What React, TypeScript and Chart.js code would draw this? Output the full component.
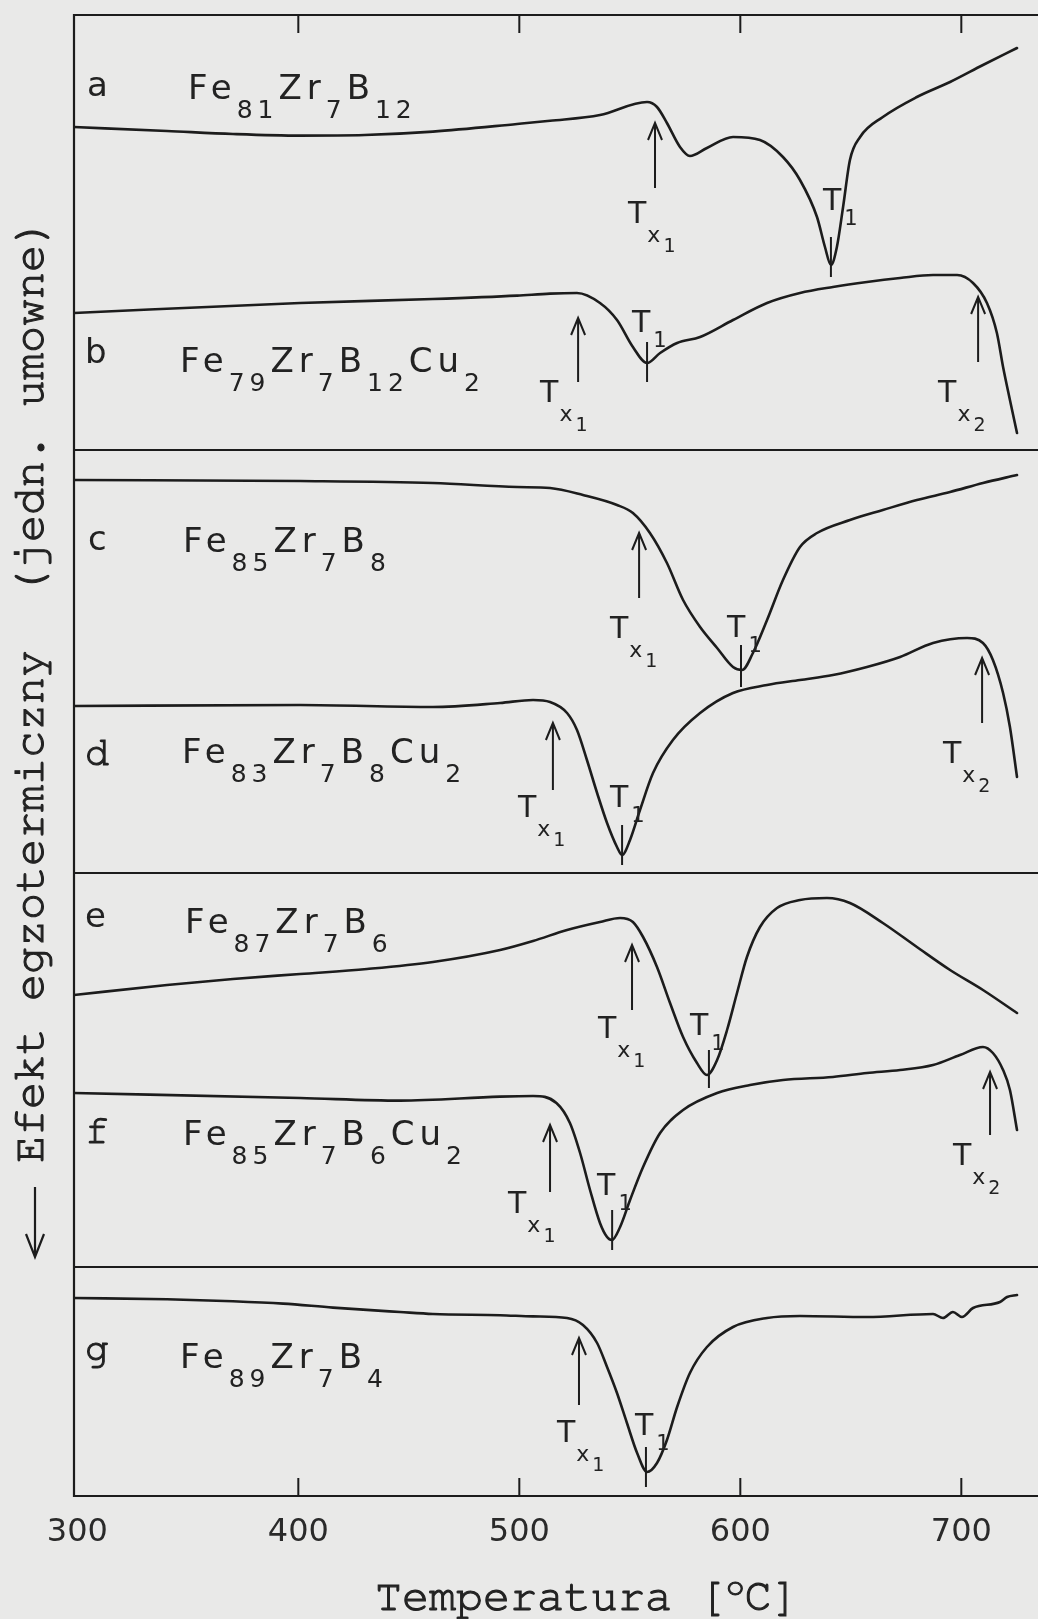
import React, { useEffect, useRef } from 'react';
import { Chart, registerables } from 'chart.js';

Chart.register(...registerables);

const BG = '#e9e9e8';
const INK = '#1c1c1c';
const TEXT = '#222';
const SANS = '"DejaVu Sans", sans-serif';
const MONO = '"Nimbus Mono PS", "Courier 10 Pitch", FreeMono, "Courier New", Courier, "Liberation Mono", monospace';

// x axis (temperature, deg C)
const xTicks = [300, 400, 500, 600, 700];
const xMin = 298.5;
const xMax = 734.7;

// four stacked panels, arbitrary units ("jedn. umowne")
const panelIds = ['p1', 'p2', 'p3', 'p4'];
const panelMax = [108.75, 105.75, 98.5, 57.25];
const panelWeight = [435, 423, 394, 229];

// a: Fe81Zr7B12
const tA = [298.5, 340.6, 370.4, 400.8, 430, 460.9, 499, 513.9, 536.5, 557.8, 562.3, 566.8, 572.7, 577.2, 584.9, 596.7, 608.9, 619.3, 627, 634.7, 638.3, 641, 643.7, 646.5, 649.6, 654.2, 664.5, 679.9, 694.9, 709.8, 725.2];
const vA = [80.75, 79.75, 79, 78.6, 78.75, 79.6, 81.5, 82.3, 83.75, 87, 85.75, 81.75, 75.75, 73.5, 75.5, 78.25, 77.5, 73.25, 67.5, 58.25, 50.75, 46.25, 50.75, 60.75, 72.5, 78.25, 83.25, 88.25, 92, 96.25, 100.5];

// b: Fe79Zr7B12Cu2
const tB = [298.5, 400.8, 460.9, 499, 513.9, 526.1, 536.5, 544.2, 551.4, 557.8, 563.7, 571.4, 581.8, 596.7, 612.1, 627, 641.9, 657.3, 672.3, 687.2, 698.1, 705.3, 711.6, 716.1, 718.9, 722, 725.2];
const vB = [34.25, 36.75, 37.75, 38.6, 39.1, 39.25, 36.75, 32.5, 25.75, 21.75, 24.25, 26.75, 28.25, 32.5, 36.75, 39.25, 40.75, 42, 43, 43.75, 43.75, 41.75, 36.75, 29.25, 20.75, 12.5, 4.25];

// c: Fe85Zr7B8
const tC = [298.5, 400.8, 460.9, 499, 513.9, 528.8, 544.2, 551.4, 559.1, 566.8, 574.1, 581.8, 589.5, 596.7, 600.8, 605.7, 612.1, 619.3, 627, 634.7, 649.6, 664.5, 679.9, 694.9, 709.8, 725.2];
const vC = [98.25, 98, 97.5, 96.5, 96.25, 94.5, 92, 90, 85, 77.5, 68.25, 61.5, 56.25, 51.5, 50.75, 55, 63.25, 73.25, 81.5, 85, 88.25, 90.75, 93.25, 95.25, 97.5, 99.5];

// d: Fe83Zr7B8Cu2
const tD = [298.5, 400.8, 460.9, 491.3, 506.2, 513.9, 521.6, 526.1, 530.6, 535.2, 539.7, 544.2, 546.5, 550.1, 554.6, 560.5, 569.5, 581.8, 596.7, 612.1, 627, 641.9, 657.3, 672.3, 687.2, 702.6, 709.8, 714.3, 718.9, 722, 725.2];
const vD = [41.75, 42, 41.5, 42.5, 43.25, 42.75, 40, 35.75, 28.25, 20, 12.5, 6.5, 4.5, 8.25, 15.75, 25, 33.25, 40, 45, 47, 48.25, 49.5, 51.5, 54, 57.5, 58.75, 57.5, 53.25, 45, 36.5, 24];

// e: Fe87Zr7B6
const tE = [298.5, 340.6, 370.4, 400.8, 431.1, 460.9, 491.3, 506.2, 521.6, 536.5, 545.6, 551.4, 556, 562.3, 568.2, 574.1, 580.4, 584.9, 589.5, 594, 598.5, 603, 608.9, 616.6, 627, 639.2, 649.6, 664.5, 679.9, 694.9, 709.8, 725.2];
const vE = [68, 70.5, 72, 73.25, 74.5, 76.25, 79.25, 81.5, 84.25, 86.25, 87.25, 86.25, 82.5, 75, 66, 57.5, 51, 48, 51.75, 59.25, 68.5, 77.5, 85, 89.75, 91.75, 92.25, 91, 86, 80, 74.25, 69.25, 63.5];

// f: Fe85Zr7B6Cu2
const tF = [298.5, 400.8, 446, 491.3, 506.2, 516.8, 522.9, 527.5, 532, 536.5, 539.7, 541.9, 545.6, 550.1, 556, 563.7, 574.1, 589.5, 604.4, 619.3, 641.9, 657.3, 672.3, 687.2, 699.4, 709.8, 714.3, 718.9, 722, 725.2];
const vF = [43.5, 42.25, 41.6, 42.6, 42.75, 41, 36, 28.5, 19.25, 11, 7.5, 6.75, 10, 16.75, 25, 33.5, 39.25, 43.5, 45.5, 46.75, 47.5, 48.5, 49.25, 50.5, 53, 55, 53.5, 49.25, 44.25, 34.25];

// g: Fe89Zr7B4
const tG = [298.5, 340.6, 370.4, 393.1, 415.7, 446, 460.9, 491.3, 506.2, 521.6, 528.8, 535.2, 539.7, 544.2, 548.7, 553.3, 557.8, 562.3, 566.8, 571.4, 577.2, 584.9, 596.7, 612.1, 627, 657.3, 687.2, 691.7, 696.2, 700.3, 705.3, 717.5, 720.7, 725.2];
const vG = [49.5, 49.2, 48.7, 48.1, 47.1, 46, 45.5, 45.2, 44.9, 44.5, 42.75, 38.25, 32.25, 25.75, 18.25, 10.75, 6, 8.25, 14, 22.25, 30.75, 37.25, 42.25, 44.5, 45, 44.75, 45.5, 44.5, 46, 44.75, 47, 48.5, 49.75, 50.25];

const curveT = [tA, tB, tC, tD, tE, tF, tG];
const curveV = [vA, vB, vC, vD, vE, vF, vG];
const curvePanel = [0, 0, 1, 1, 2, 2, 3];

// curve letters: [panel, T, value, letter, serif]
const curveLetters: [number, number, number, string, boolean][] = [
  [0, 304.4, 88.5, 'a', false],
  [0, 303.5, 21.75, 'b', false],
  [1, 304.8, 80.75, 'c', false],
  [1, 303.5, 27, 'd', true],
  [2, 303.5, 85, 'e', false],
  [2, 303.5, 31, 'f', true],
  [3, 303.5, 34, 'g', true],
];

// formula labels: [panel, T, value]
const formulaPos: [number, number, number][] = [
  [0, 350.1, 87.75],
  [0, 346.5, 19.5],
  [1, 347.8, 80.25],
  [1, 347.4, 27.5],
  [2, 348.7, 83.5],
  [2, 347.8, 30.5],
  [3, 346.5, 32],
];
const formulas: [string, string][][] = [
  [['Fe', '81'], ['Zr', '7'], ['B', '12']],
  [['Fe', '79'], ['Zr', '7'], ['B', '12'], ['Cu', '2']],
  [['Fe', '85'], ['Zr', '7'], ['B', '8']],
  [['Fe', '83'], ['Zr', '7'], ['B', '8'], ['Cu', '2']],
  [['Fe', '87'], ['Zr', '7'], ['B', '6']],
  [['Fe', '85'], ['Zr', '7'], ['B', '6'], ['Cu', '2']],
  [['Fe', '89'], ['Zr', '7'], ['B', '4']],
];

// up-arrows (Tx): [panel, T, from, to]
const arrows: [number, number, number, number][] = [
  [0, 561.4, 65.5, 81.75],
  [0, 526.6, 17, 33],
  [0, 707.6, 22, 38.25],
  [1, 554.2, 68.75, 85],
  [1, 515.2, 20.75, 37.5],
  [1, 709.4, 37.5, 53.75],
  [2, 551, 64.25, 80.5],
  [2, 513.9, 18.75, 35.5],
  [2, 713, 33, 48.75],
  [3, 527, 22.75, 39.5],
];

// peak marks (T1): [panel, T, from, to]
const peakMarks: [number, number, number, number][] = [
  [0, 641, 43.25, 53.25],
  [0, 557.8, 17, 27],
  [1, 600.3, 46.5, 57],
  [1, 546.5, 2, 12],
  [2, 585.8, 44.75, 54.25],
  [2, 542, 4.25, 14.25],
  [3, 557.3, 2.25, 12.25],
];

// T labels: [panel, T, value, sub, subsub]
const tLabels: [number, number, number, string, string][] = [
  [0, 549.2, 56.75, 'x', '1'],
  [0, 637.4, 60, '1', ''],
  [0, 509.4, 12, 'x', '1'],
  [0, 551, 29.5, '1', ''],
  [0, 689.5, 12, 'x', '2'],
  [1, 541, 58.75, 'x', '1'],
  [1, 594, 59, '1', ''],
  [1, 499.4, 14, 'x', '1'],
  [1, 541, 16.5, '1', ''],
  [1, 691.7, 27.5, 'x', '2'],
  [2, 535.6, 57.25, 'x', '1'],
  [2, 577.2, 58, '1', ''],
  [2, 494.9, 13.5, 'x', '1'],
  [2, 535.2, 18, '1', ''],
  [2, 696.2, 25.5, 'x', '2'],
  [3, 517, 13.5, 'x', '1'],
  [3, 552.3, 15.25, '1', ''],
];

const xTitle = ['Temperatura [', 'o', 'C]'];
const yTitle = 'Efekt egzotermiczny  (jedn. umowne)';

function heavyText(ctx: CanvasRenderingContext2D, s: string, x: number, y: number) {
  ctx.fillText(s, x, y);
  ctx.lineWidth = 1.1;
  ctx.strokeStyle = TEXT;
  ctx.strokeText(s, x, y);
}

function drawTLabel(ctx: CanvasRenderingContext2D, x: number, y: number, sub: string, subsub: string) {
  ctx.font = `30px ${SANS}`;
  ctx.fillText('T', x, y);
  let cx = x + ctx.measureText('T').width;
  if (sub === 'x') {
    cx += 1;
    ctx.font = `22px ${SANS}`;
    ctx.fillText('x', cx, y + 19);
    cx += ctx.measureText('x').width + 3;
    ctx.font = `19px ${SANS}`;
    ctx.fillText(subsub, cx, y + 29);
  } else {
    cx += 3;
    ctx.font = `21px ${SANS}`;
    ctx.fillText(sub, cx, y + 15);
  }
}

function drawFormula(ctx: CanvasRenderingContext2D, x: number, y: number, parts: [string, string][]) {
  (ctx as any).letterSpacing = '5px';
  let cx = x;
  for (const [main, sub] of parts) {
    ctx.font = `34px ${SANS}`;
    ctx.fillText(main, cx, y);
    cx += ctx.measureText(main).width;
    ctx.font = `25px ${SANS}`;
    ctx.fillText(sub, cx, y + 19);
    cx += ctx.measureText(sub).width;
  }
  (ctx as any).letterSpacing = '0px';
}

const decor = {
  id: 'decor',
  beforeDraw(chart: any) {
    const { ctx, width, height } = chart;
    ctx.save();
    ctx.fillStyle = BG;
    ctx.fillRect(0, 0, width, height);
    ctx.restore();
  },
  afterDatasetsDraw(chart: any) {
    const { ctx, chartArea } = chart;
    const xs = chart.scales.x;
    const ys = panelIds.map((id) => chart.scales[id]);
    const W = chart.width;
    ctx.save();
    ctx.strokeStyle = INK;
    ctx.fillStyle = INK;
    ctx.lineWidth = 2.2;
    ctx.lineCap = 'butt';

    // frame & panel separators
    ctx.beginPath();
    ctx.moveTo(chartArea.left, chartArea.top - 1);
    ctx.lineTo(chartArea.left, chartArea.bottom + 1);
    ctx.moveTo(chartArea.left, chartArea.top);
    ctx.lineTo(W, chartArea.top);
    for (const s of ys) {
      ctx.moveTo(chartArea.left, s.bottom);
      ctx.lineTo(W, s.bottom);
    }
    ctx.stroke();

    // inward ticks top and bottom
    ctx.lineWidth = 2;
    ctx.beginPath();
    for (const t of xTicks.slice(1)) {
      const px = xs.getPixelForValue(t);
      ctx.moveTo(px, chartArea.top);
      ctx.lineTo(px, chartArea.top + 18);
      ctx.moveTo(px, chartArea.bottom);
      ctx.lineTo(px, chartArea.bottom - 18);
    }
    ctx.stroke();

    // arrows
    ctx.lineWidth = 2;
    for (const [p, t, a, b] of arrows) {
      const px = xs.getPixelForValue(t);
      const y0 = ys[p].getPixelForValue(a);
      const y1 = ys[p].getPixelForValue(b);
      ctx.beginPath();
      ctx.moveTo(px, y0);
      ctx.lineTo(px, y1);
      ctx.moveTo(px - 7, y1 + 17);
      ctx.lineTo(px, y1);
      ctx.lineTo(px + 7, y1 + 17);
      ctx.stroke();
    }
    // peak marks
    for (const [p, t, a, b] of peakMarks) {
      const px = xs.getPixelForValue(t);
      ctx.beginPath();
      ctx.moveTo(px, ys[p].getPixelForValue(a));
      ctx.lineTo(px, ys[p].getPixelForValue(b));
      ctx.stroke();
    }

    // text
    ctx.fillStyle = TEXT;
    ctx.textBaseline = 'alphabetic';
    ctx.textAlign = 'left';
    for (const [p, t, v, sub, subsub] of tLabels) {
      drawTLabel(ctx, xs.getPixelForValue(t), ys[p].getPixelForValue(v), sub, subsub);
    }
    curveLetters.forEach(([p, t, v, letter, serif]) => {
      const x = xs.getPixelForValue(t);
      const y = ys[p].getPixelForValue(v);
      if (serif) {
        ctx.font = `40px ${MONO}`;
        heavyText(ctx, letter, x, y);
      } else {
        ctx.font = `34px ${SANS}`;
        ctx.fillText(letter, x, y);
      }
    });
    formulaPos.forEach(([p, t, v], i) => {
      drawFormula(ctx, xs.getPixelForValue(t), ys[p].getPixelForValue(v), formulas[i]);
    });

    // x title
    let tx = chartArea.left + 301;
    const ty = chartArea.bottom + 114;
    ctx.font = `45px ${MONO}`;
    heavyText(ctx, xTitle[0], tx, ty);
    tx += ctx.measureText(xTitle[0]).width;
    ctx.font = `31px ${MONO}`;
    heavyText(ctx, xTitle[1], tx, ty - 15);
    tx += ctx.measureText(xTitle[1]).width;
    ctx.font = `45px ${MONO}`;
    heavyText(ctx, xTitle[2], tx, ty);

    // y title (rotated) with arrow
    ctx.save();
    ctx.translate(chartArea.left - 31, ys[2].bottom - 104);
    ctx.rotate(-Math.PI / 2);
    ctx.font = `45px ${MONO}`;
    heavyText(ctx, yTitle, 0, 0);
    ctx.restore();
    const ax = chartArea.left - 39;
    const ay0 = ys[2].bottom - 80;
    const ay1 = ys[2].bottom - 10;
    ctx.strokeStyle = INK;
    ctx.lineWidth = 2.2;
    ctx.beginPath();
    ctx.moveTo(ax, ay0);
    ctx.lineTo(ax, ay1);
    ctx.moveTo(ax - 9, ay1 - 23);
    ctx.lineTo(ax, ay1);
    ctx.lineTo(ax + 9, ay1 - 23);
    ctx.stroke();

    ctx.restore();
  },
};

function buildConfig(): any {
  const datasets = curveT.map((ts, i) => ({
    data: ts.map((t, j) => ({ x: t, y: curveV[i][j] })),
    xAxisID: 'x',
    yAxisID: panelIds[curvePanel[i]],
    borderColor: INK,
    borderWidth: 2.6,
    pointRadius: 0,
    fill: false,
    cubicInterpolationMode: 'monotone',
    tension: 0.4,
    borderJoinStyle: 'round',
    borderCapStyle: 'round',
  }));

  const scales: any = {
    x: {
      type: 'linear',
      position: 'bottom',
      min: xMin,
      max: xMax,
      afterBuildTicks: (s: any) => {
        s.ticks = xTicks.map((v) => ({ value: v }));
      },
      afterFit: (s: any) => {
        s.height = 123;
      },
      grid: { display: false, drawTicks: false },
      border: { display: false },
      ticks: {
        autoSkip: false,
        maxRotation: 0,
        padding: 17,
        color: '#2a2a2a',
        font: { family: SANS, size: 32 },
        callback: (v: number) => String(v),
      },
    },
  };
  panelIds.forEach((id, i) => {
    scales[id] = {
      type: 'linear',
      position: 'left',
      stack: 'panels',
      stackWeight: panelWeight[i],
      weight: 4 - i,
      min: 0,
      max: panelMax[i],
      display: false,
      afterFit: (s: any) => {
        s.width = 0;
      },
      grid: { display: false, drawTicks: false },
      border: { display: false },
      ticks: { display: false },
    };
  });

  return {
    type: 'line',
    data: { datasets },
    options: {
      responsive: false,
      animation: false,
      events: [],
      layout: { padding: { left: 74, top: 15, right: 0, bottom: 0 } },
      plugins: { legend: { display: false }, tooltip: { enabled: false }, title: { display: false } },
      scales,
    },
    plugins: [decor],
  };
}

export default function App() {
  const ref = useRef<HTMLCanvasElement>(null);
  useEffect(() => {
    document.body.style.margin = '0';
    const chart = new Chart(ref.current as HTMLCanvasElement, buildConfig());
    return () => chart.destroy();
  }, []);
  return (
    <div style={{ position: 'fixed', left: 0, top: 0, width: 1038, height: 1619, background: BG }}>
      <canvas ref={ref} width={1038} height={1619} style={{ display: 'block', width: 1038, height: 1619 }} />
    </div>
  );
}
